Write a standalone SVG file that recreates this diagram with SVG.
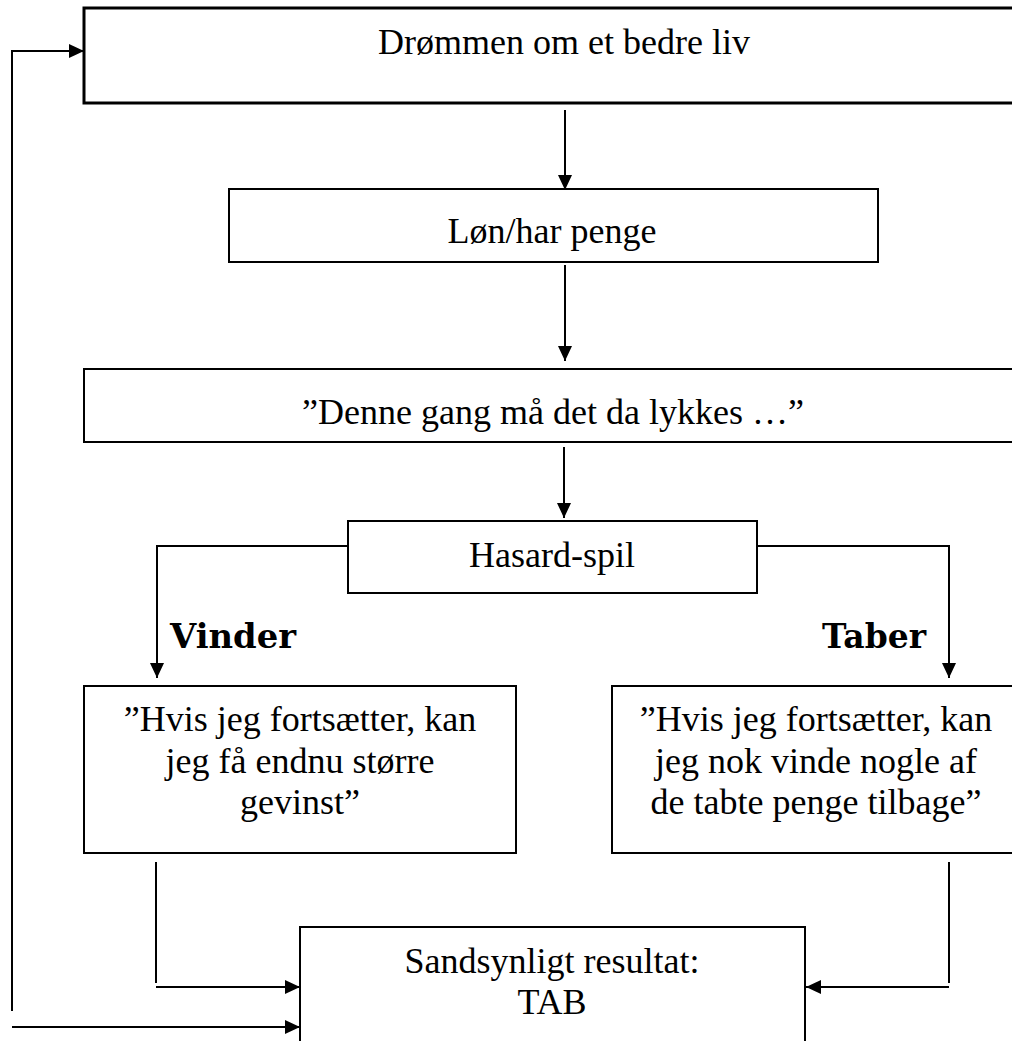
<svg xmlns="http://www.w3.org/2000/svg" width="1012" height="1041" viewBox="0 0 1012 1041">
<style>
.box{fill:#fff;stroke:#000;stroke-width:2}
.t{font-family:"Liberation Serif","Times New Roman",serif;font-size:36px;fill:#000;text-anchor:middle}
.lbl{font-family:"DejaVu Serif","Liberation Serif",serif;font-size:34px;font-weight:bold;fill:#000}
.c{fill:none;stroke:#000;stroke-width:2}
</style>
<defs>
<marker id="ah" markerUnits="userSpaceOnUse" markerWidth="16" markerHeight="15" refX="15" refY="7" orient="auto">
<path d="M0,0 L15,7 L0,14 z" fill="#000"/>
</marker>
</defs>
<rect width="1012" height="1041" fill="#fff"/>
<g id="connectors">
<line class="c" x1="565" y1="110" x2="565" y2="190" marker-end="url(#ah)"/>
<line class="c" x1="565" y1="265" x2="565" y2="361" marker-end="url(#ah)"/>
<line class="c" x1="564" y1="447" x2="564" y2="518" marker-end="url(#ah)"/>
<polyline class="c" points="348,546 157,546 157,678" marker-end="url(#ah)"/>
<polyline class="c" points="757,546 949,546 949,678" marker-end="url(#ah)"/>
<line class="c" x1="156" y1="862" x2="156" y2="983"/>
<line class="c" x1="156" y1="987" x2="300" y2="987" marker-end="url(#ah)"/>
<line class="c" x1="949" y1="862" x2="949" y2="983"/>
<line class="c" x1="949" y1="987" x2="806" y2="987" marker-end="url(#ah)"/>
<polyline class="c" points="12,1011 12,51 84,51" marker-end="url(#ah)"/>
<line class="c" x1="12" y1="1027" x2="300" y2="1027" marker-end="url(#ah)"/>
</g>
<g id="n_drommen">
<rect class="box" x="84" y="8" width="960" height="95" style="stroke-width:3"/>
<text class="t" x="564" y="54">Drømmen om et bedre liv</text>
</g>
<g id="n_lon">
<rect class="box" x="229" y="189" width="649" height="73"/>
<text class="t" x="552" y="243">Løn/har penge</text>
</g>
<g id="n_denne">
<rect class="box" x="84" y="369" width="936" height="73"/>
<text class="t" x="553" y="424">”Denne gang må det da lykkes …”</text>
</g>
<g id="n_hasard">
<rect class="box" x="348" y="521" width="409" height="72"/>
<text class="t" x="552" y="567">Hasard-spil</text>
</g>
<g id="l_vinder">
<text class="lbl" x="170" y="648" textLength="126" lengthAdjust="spacingAndGlyphs">Vinder</text>
</g>
<g id="l_taber">
<text class="lbl" x="822" y="648" textLength="104" lengthAdjust="spacingAndGlyphs">Taber</text>
</g>
<g id="n_vinder">
<rect class="box" x="84" y="686" width="432" height="167"/>
<text class="t" x="300" y="731">”Hvis jeg fortsætter, kan</text>
<text class="t" x="300" y="773">jeg få endnu større</text>
<text class="t" x="300" y="814">gevinst”</text>
</g>
<g id="n_taber">
<rect class="box" x="612" y="686" width="408" height="167"/>
<text class="t" x="816" y="731">”Hvis jeg fortsætter, kan</text>
<text class="t" x="816" y="773">jeg nok vinde nogle af</text>
<text class="t" x="816" y="814">de tabte penge tilbage”</text>
</g>
<g id="n_resultat">
<rect class="box" x="300" y="927" width="505" height="130"/>
<text class="t" x="552" y="973">Sandsynligt resultat:</text>
<text class="t" x="552" y="1014">TAB</text>
</g>
</svg>
